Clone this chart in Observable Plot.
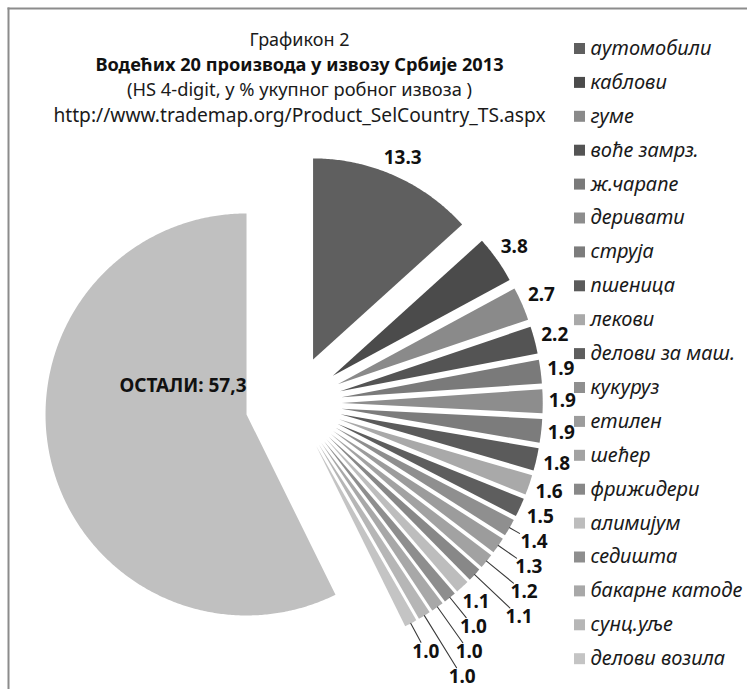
<!DOCTYPE html>
<html>
<head>
<meta charset="utf-8">
<script src="https://cdn.jsdelivr.net/npm/d3@7"></script>
<script src="https://cdn.jsdelivr.net/npm/@observablehq/plot@0.6"></script>
<style>
  html, body { margin: 0; padding: 0; background: #ffffff; }
  #chart { width: 747px; height: 689px; overflow: hidden; }
</style>
</head>
<body>
<div id="chart"></div>
<script>
// ---------- data ----------
const products = ["аутомобили", "каблови", "гуме", "воће замрз.", "ж.чарапе", "деривати", "струја", "пшеница", "лекови", "делови за маш.", "кукуруз", "етилен", "шећер", "фрижидери", "алимијум", "седишта", "бакарне катоде", "сунц.уље", "делови возила"];
const shares = [13.3, 3.8, 2.7, 2.2, 1.9, 1.9, 1.9, 1.8, 1.6, 1.5, 1.4, 1.3, 1.2, 1.1, 1.1, 1.0, 1.0, 1.0, 1.0];
const shareColors = ["#5f5f5f", "#4b4b4b", "#8a8a8a", "#545454", "#7a7a7a", "#8d8d8d", "#7c7c7c", "#5b5b5b", "#a9a9a9", "#5e5e5e", "#8f8f8f", "#9c9c9c", "#a2a2a2", "#888888", "#bdbdbd", "#8e8e8e", "#a8a8a8", "#b6b6b6", "#c4c4c4"];
const otherName = "ОСТАЛИ";
const otherShare = 57.3;
const otherColor = "#c0c0c0";
const titleLines = ["Графикон 2", "Водећих 20 производа у извозу Србије 2013", "(HS 4-digit, у % укупног робног извоза )", "http://www.trademap.org/Product_SelCountry_TS.aspx"];

// ---------- layout ----------
const W = 747, H = 689;
const CX = 293, CY = 403;          // pie centre (px)
const R = 201;                      // pie radius
const EXPLODE = 0.24 * R;           // point explosion
const LABEL_SIZE = 19;
const GAP = 5;
const FONT = "'Noto Sans', 'DejaVu Sans', sans-serif";
const LEG_SQ_X = 579, LEG_TXT_X = 590, LEG_Y0 = 48, LEG_STEP = 33.9;
const TITLE_X = 299, TITLE_Y0 = 40, TITLE_STEP = 25;
const titleSizes = [18, 18.2, 18.3, 19.2];
const titleBold = [false, true, false, false];

const fmt = d3.format(".1f");
const total = d3.sum(shares) + otherShare;

const slices = products.map((name, i) => ({name, value: shares[i], color: shareColors[i], text: fmt(shares[i])}));
slices.push({name: otherName, value: otherShare, color: otherColor, text: `${otherName}: ${fmt(otherShare).replace(".", ",")}`, other: true});
let acc = 0;
for (const s of slices) {
  s.a0 = acc / total * 2 * Math.PI;
  acc += s.value;
  s.a1 = acc / total * 2 * Math.PI;
  s.mid = (s.a0 + s.a1) / 2;
  s.ax = CX + EXPLODE * Math.sin(s.mid);
  s.ay = CY - EXPLODE * Math.cos(s.mid);
}

// slice outlines
const piePts = slices.flatMap((s, i) => {
  const n = Math.max(2, Math.ceil((s.a1 - s.a0) / (Math.PI / 360)));
  const pts = [{id: i, color: s.color, x: s.ax, y: s.ay}];
  for (let k = 0; k <= n; k++) {
    const a = s.a0 + (s.a1 - s.a0) * k / n;
    pts.push({id: i, color: s.color, x: s.ax + R * Math.sin(a), y: s.ay - R * Math.cos(a)});
  }
  return pts;
});

// ---------- data labels: outside end; crowded labels slide out along their own ray with a leader ----------
const ctx = document.createElement("canvas").getContext("2d");
ctx.font = `bold ${LABEL_SIZE}px ${FONT}`;
const PADX = 6, PADY = 10;

function segHitsBox(x1, y1, x2, y2, b, pad) {
  const xmin = b.x0 - pad, xmax = b.x1 + pad, ymin = b.y0 - pad, ymax = b.y1 + pad;
  let t0 = 0, t1 = 1;
  const dx = x2 - x1, dy = y2 - y1;
  const p = [-dx, dx, -dy, dy], q = [x1 - xmin, xmax - x1, y1 - ymin, ymax - y1];
  for (let k = 0; k < 4; k++) {
    if (p[k] === 0) { if (q[k] < 0) return false; }
    else {
      const t = q[k] / p[k];
      if (p[k] < 0) { if (t > t1) return false; if (t > t0) t0 = t; }
      else { if (t < t0) return false; if (t < t1) t1 = t; }
    }
  }
  return true;
}
const boxesOverlap = (a, b) => !(a.x1 + PADX <= b.x0 || b.x1 + PADX <= a.x0 || a.y1 + PADY <= b.y0 || b.y1 + PADY <= a.y0);

const placed = [];
const segments = [];
const labels = [];
const leaders = [];
slices.filter(s => !s.other).forEach((s, i) => {
  const w = ctx.measureText(s.text).width + 2, h = LABEL_SIZE * 0.78;
  const search = (shiftsDeg) => {
    for (const dd of shiftsDeg) {
      const a = s.mid + dd * Math.PI / 180;
      const sn = Math.sin(a), cs = Math.cos(a);
      const px = CX + (R + EXPLODE) * Math.sin(s.mid), py = CY - (R + EXPLODE) * Math.cos(s.mid);
      const rn = R + EXPLODE + GAP + Math.abs(sn) * w / 2 + Math.abs(cs) * h / 2;
      for (let r = rn; r <= rn + 200; r += 0.5) {
        const cx = CX + r * sn, cy = CY - r * cs;
        const box = {x0: cx - w / 2, x1: cx + w / 2, y0: cy - h / 2, y1: cy + h / 2};
        if (box.y1 > H - 4 || box.x1 > W - 4 || box.x0 < 12) continue;
        if (placed.some(b => boxesOverlap(b, box))) continue;
        if (segments.some(g => segHitsBox(g[0], g[1], g[2], g[3], box, 1))) continue;
        let seg = null;
        if (r - rn > 4 || dd !== 0) {
          const re = r - Math.min(w / 2 / Math.max(Math.abs(sn), 1e-6), h / 2 / Math.max(Math.abs(cs), 1e-6)) - 2;
          seg = [px, py, CX + re * sn, CY - re * cs];
          if (placed.some(b => segHitsBox(seg[0], seg[1], seg[2], seg[3], b, 1))) continue;
        }
        return {cx, cy, box, seg};
      }
    }
    return null;
  };
  const best = search([0]) || search([2, 4, 6, 8, 10, 12, 14, 16, -2, -4]) || (() => {
    const sn = Math.sin(s.mid), cs = Math.cos(s.mid);
    const rn = R + EXPLODE + GAP + Math.abs(sn) * w / 2 + Math.abs(cs) * h / 2;
    const cx = CX + rn * sn, cy = CY - rn * cs;
    return {cx, cy, box: {x0: cx - w / 2, x1: cx + w / 2, y0: cy - h / 2, y1: cy + h / 2}, seg: null};
  })();
  placed.push(best.box);
  labels.push({x: best.cx, y: best.cy, text: s.text});
  if (best.seg) {
    segments.push(best.seg);
    leaders.push({id: i, x: best.seg[0], y: best.seg[1]}, {id: i, x: best.seg[2], y: best.seg[3]});
  }
});
const other = slices[slices.length - 1];
const otherLabel = [{x: other.ax, y: other.ay - 0.14 * R, text: other.text}];

const legendRows = products.map((name, i) => ({name, color: shareColors[i], i}));
const titleRows = titleLines.map((text, i) => ({text, i, size: titleSizes[i], bold: titleBold[i]}));

const chart = Plot.plot({
  width: W,
  height: H,
  marginTop: 8, marginLeft: 8, marginRight: 0, marginBottom: 0,
  x: {domain: [0, W], range: [0, W], axis: null},
  y: {domain: [0, H], range: [0, H], axis: null},
  color: {type: "identity"},
  style: {fontFamily: FONT, background: "#ffffff", color: "#000000"},
  marks: [
    Plot.frame({anchor: "top", stroke: "#8c8c8c", strokeWidth: 2}),
    Plot.frame({anchor: "left", stroke: "#8c8c8c", strokeWidth: 2}),
    Plot.line(piePts, {x: "x", y: "y", z: "id", fill: "color", stroke: "none", curve: "linear-closed"}),
    Plot.line(leaders, {x: "x", y: "y", z: "id", stroke: "#3a3a3a", strokeWidth: 1.1}),
    Plot.text(labels, {x: "x", y: "y", text: "text", fontSize: LABEL_SIZE, fontWeight: "bold", fill: "#111"}),
    Plot.text(otherLabel, {x: "x", y: "y", text: "text", fontSize: LABEL_SIZE, fontWeight: "bold", textAnchor: "end", fill: "#111"}),
    // titles
    Plot.text(titleRows, {filter: d => !d.bold, x: () => TITLE_X, y: d => TITLE_Y0 + d.i * TITLE_STEP, text: "text", fontSize: "size", fill: "#1a1a1a"}),
    Plot.text(titleRows, {filter: d => d.bold, x: () => TITLE_X, y: d => TITLE_Y0 + d.i * TITLE_STEP, text: "text", fontSize: "size", fontWeight: "bold", fill: "#111"}),
    // legend
    Plot.dot(legendRows, {x: () => LEG_SQ_X, y: d => LEG_Y0 + d.i * LEG_STEP, symbol: "square", r: 6.2, fill: "color", stroke: "none"}),
    Plot.text(legendRows, {x: () => LEG_TXT_X, y: d => LEG_Y0 + d.i * LEG_STEP, text: "name", textAnchor: "start", fontSize: 20, fontStyle: "italic", fill: "#1a1a1a"})
  ]
});
document.getElementById("chart").appendChild(chart);
</script>
</body>
</html>
